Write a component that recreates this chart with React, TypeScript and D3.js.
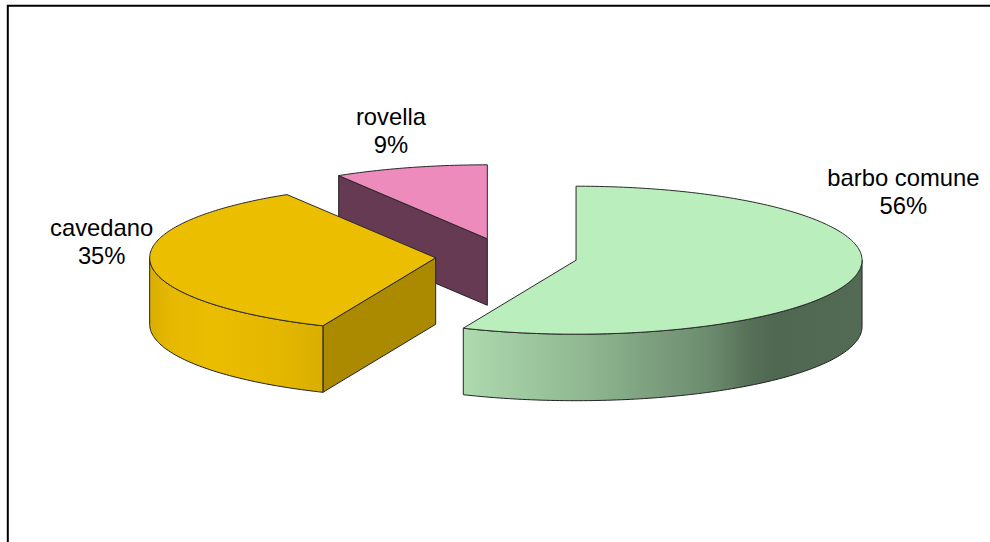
import React from "react";
import * as d3 from "d3";

const categories = ["barbo comune", "cavedano", "rovella"];
const shareLabels = ["56%", "35%", "9%"];
const shares = [56.45, 34.85, 8.7];

const topFills = ["#BAEEBC", "#ECBE00", "#ED8BBC"];
const radialWallFills = [null, "#AB8A00", "#663A52"];
const labelAnchors: [number, number][] = [
  [903.4, 186],
  [101.7, 235.5],
  [391, 124.5],
];

// Shading across each curved wall, as [offset, colour] pairs.
const wallShades: [number, string][][] = [
  [
    [0, "#AEDAAE"],
    [0.3, "#90B892"],
    [0.62, "#6C8B6E"],
    [0.72, "#566F57"],
    [0.78, "#506852"],
    [1, "#536A54"],
  ],
  [
    [0, "#D8AE00"],
    [0.12, "#E6B800"],
    [0.35, "#EBBD00"],
    [0.75, "#E4B700"],
    [1, "#D9AE00"],
  ],
];

const WIDTH = 990;
const HEIGHT = 542;
const centre = { x: 506.5, y: 256.5 };
const radiusX = 286;
const radiusY = 74;
const thickness = 66.5;
const explode = 71;

const xScale = d3.scaleLinear().domain([-1, 1]).range([-radiusX, radiusX]);
const yScale = d3.scaleLinear().domain([-1, 1]).range([-radiusY, radiusY]);

const pieLayout = d3
  .pie<number>()
  .sort(null)
  .value((d) => d);

type Pt = [number, number];
const rim = (cx: number, cy: number, a: number): Pt => [
  cx + xScale(Math.sin(a)),
  cy + yScale(-Math.cos(a)),
];
const arcPoints = (cx: number, cy: number, a0: number, a1: number): Pt[] => {
  const n = Math.max(2, Math.ceil(Math.abs(a1 - a0) * 60));
  return d3.range(n + 1).map((i) => rim(cx, cy, a0 + ((a1 - a0) * i) / n));
};
const line = d3.line<Pt>();
const lowered = (pts: Pt[]): Pt[] => pts.map((p) => [p[0], p[1] + thickness] as Pt);

export default function App() {
  const slices = pieLayout(shares).map((s, i) => {
    const mid = (s.startAngle + s.endAngle) / 2;
    const cx = centre.x + explode * Math.sin(mid);
    const cy = centre.y - ((explode * radiusY) / radiusX) * Math.cos(mid);
    const top = arcPoints(cx, cy, s.startAngle, s.endAngle);
    const frontStart = Math.max(s.startAngle, Math.PI / 2);
    const frontEnd = Math.min(s.endAngle, (3 * Math.PI) / 2);
    const front = frontEnd > frontStart ? arcPoints(cx, cy, frontStart, frontEnd) : [];
    return { i, cx, cy, top, front };
  });

  // Painted back to front so nearer slices cover farther ones.
  const order = [2, 1, 0];

  return (
    <svg
      width={WIDTH}
      height={HEIGHT}
      viewBox={`0 0 ${WIDTH} ${HEIGHT}`}
      style={{ position: "absolute", left: 0, top: 0, display: "block", background: "#fff" }}
    >
      <defs>
        {slices.map((s) => {
          const stops = wallShades[s.i];
          if (!stops || !s.front.length) return null;
          const xs = s.front.map((p) => p[0]);
          return (
            <linearGradient
              key={s.i}
              id={`wall-${s.i}`}
              gradientUnits="userSpaceOnUse"
              x1={d3.min(xs)}
              x2={d3.max(xs)}
              y1={0}
              y2={0}
            >
              {stops.map(([o, c]) => (
                <stop key={o} offset={o} stopColor={c} />
              ))}
            </linearGradient>
          );
        })}
      </defs>

      <path d={`M7.8 ${HEIGHT}V5.8H${WIDTH}`} fill="none" stroke="#000" strokeWidth={2} />

      {order.map((idx) => {
        const s = slices[idx];
        const apex: Pt = [s.cx, s.cy];
        const first = s.top[0];
        const wallFill = radialWallFills[idx];
        const radialWall: Pt[] = [first, apex, ...lowered([apex, first])];
        const frontPath = s.front.length
          ? `${line(s.front)}L${line(lowered(s.front).reverse())!.slice(1)}Z`
          : null;
        return (
          <g key={idx}>
            {wallFill && (
              <path
                d={`${line(radialWall)}Z`}
                fill={wallFill}
                stroke="#222"
                strokeWidth={1}
                strokeLinejoin="round"
              />
            )}
            {frontPath && (
              <path
                d={frontPath}
                fill={`url(#wall-${idx})`}
                stroke="#222"
                strokeWidth={1}
                strokeLinejoin="round"
              />
            )}
            <path
              d={`${line(s.top)}L${apex[0]} ${apex[1]}Z`}
              fill={topFills[idx]}
              stroke="#2a2a2a"
              strokeWidth={1}
              strokeLinejoin="round"
            />
          </g>
        );
      })}

      {categories.map((c, i) => (
        <text
          key={c}
          textAnchor="middle"
          fontFamily="'Liberation Sans', Arial, sans-serif"
          fontSize={23.8}
          fill="#000"
        >
          <tspan x={labelAnchors[i][0]} y={labelAnchors[i][1]}>
            {c}
          </tspan>
          <tspan x={labelAnchors[i][0]} dy={28}>
            {shareLabels[i]}
          </tspan>
        </text>
      ))}
    </svg>
  );
}
